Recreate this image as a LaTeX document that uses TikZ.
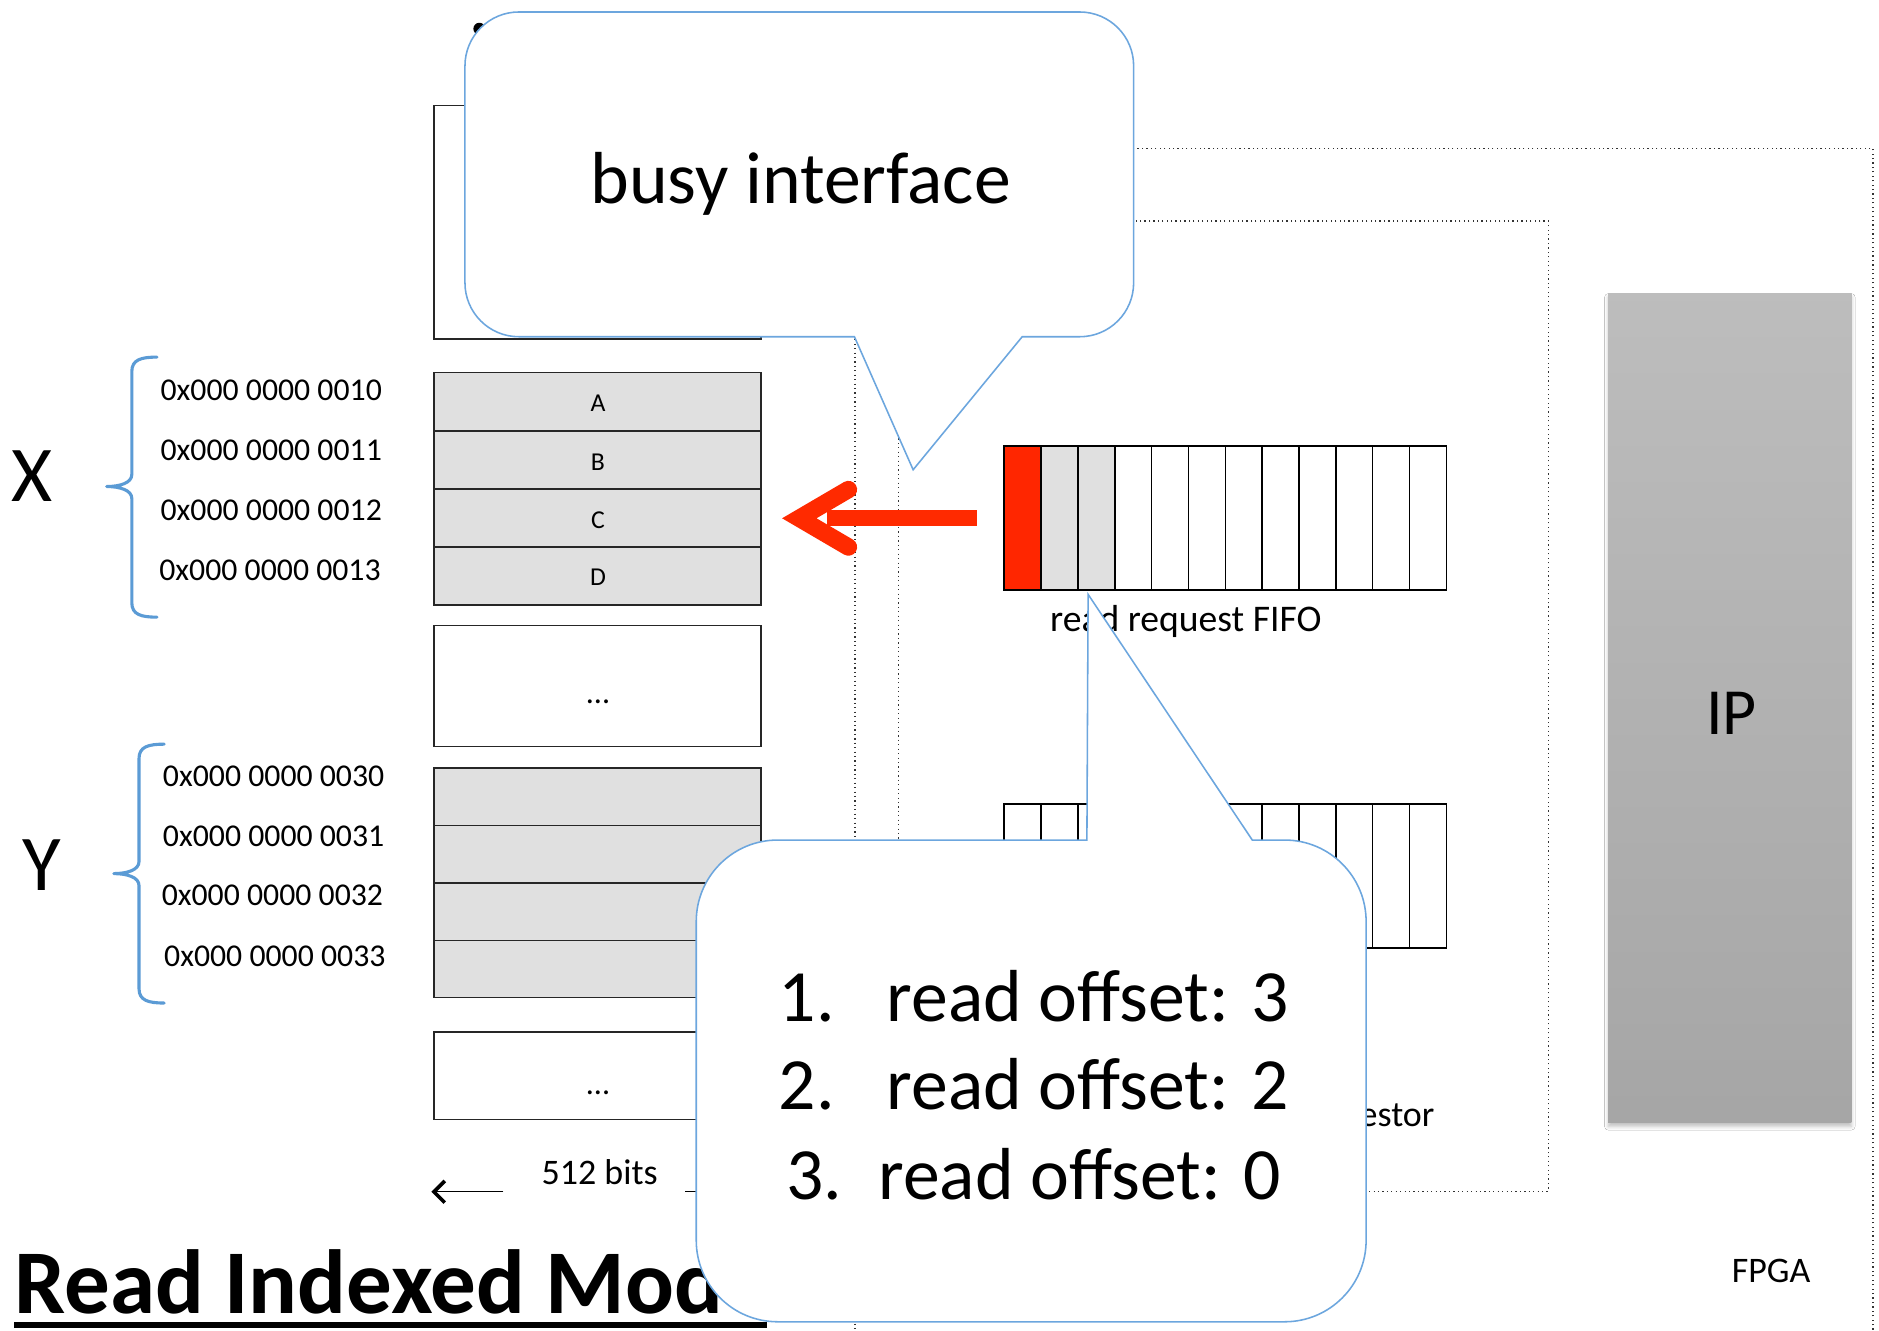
\documentclass[tikz,border=0pt]{standalone}
\usepackage{fontspec}
\setmainfont{Carlito}
\usetikzlibrary{arrows.meta,shadows.blur}
\definecolor{bblue}{RGB}{108,166,222}
\definecolor{bracec}{RGB}{91,155,213}
\definecolor{memgray}{RGB}{224,224,224}
\definecolor{fred}{RGB}{255,38,0}
\definecolor{ared}{RGB}{255,42,0}
\begin{document}
\begin{tikzpicture}[x=1pt,y=-1pt,
  membox/.style={draw=black!85, line width=1.2pt, minimum width=273pt, inner sep=0pt, outer sep=0pt},
  cell/.style={draw=black, line width=1.3pt, minimum width=30.75pt, minimum height=120pt, inner sep=0pt, outer sep=0pt},
  lbl/.style={inner sep=0pt, outer sep=0pt},
  addr/.style={lbl, anchor=base west, font=\fontsize{26.5}{30}\selectfont},
  small/.style={lbl, font=\fontsize{30}{36}\selectfont},
  tiny/.style={lbl, anchor=base, font=\fontsize{21.5}{26}\selectfont},
  big/.style={lbl, font=\fontsize{61.5}{74}\selectfont},
  bubble/.style={draw=bblue, fill=white, line width=1.3pt},
  dotline/.style={line width=1pt, dash pattern=on 1pt off 2.7pt, black!80},
  bracestyle/.style={draw=bracec, line width=2.6pt, line cap=round, line join=round},
  barb/.style={line width=1.1pt, -{Straight Barb[length=9pt,width=18pt,line width=3pt]}},
]
\useasboundingbox (0,0) rectangle (1568,1110);
\clip (0,0) rectangle (1568,1110);
\fill[white] (0,0) rectangle (1568,1110);

% dotted frames
\draw[dotline] (713.5,124) rectangle (1563,1130);
\draw[dotline] (749.5,184.5) rectangle (1292,994);

% memory column
\node[membox, minimum height=195pt] (mTop) at (498.5,185.5) {};
\node[membox, fill=memgray, minimum height=48.5pt] (mA) at (498.5,335.25) {};
\node[membox, fill=memgray, minimum height=48.5pt] (mB) at (498.5,383.75) {};
\node[membox, fill=memgray, minimum height=48.5pt] (mC) at (498.5,432.25) {};
\node[membox, fill=memgray, minimum height=48.5pt] (mD) at (498.5,480.75) {};
\node[membox, minimum height=101pt] (mDots1) at (498.5,572.5) {};
\node[membox, fill=memgray, minimum height=47.9pt] (mY1) at (498.5,664.95) {};
\node[membox, fill=memgray, minimum height=47.9pt] (mY2) at (498.5,712.85) {};
\node[membox, fill=memgray, minimum height=47.9pt] (mY3) at (498.5,760.75) {};
\node[membox, fill=memgray, minimum height=47.9pt] (mY4) at (498.5,808.65) {};
\node[membox, minimum height=73pt] (mDots2) at (498.5,897.5) {};

\node[tiny] (tA) at (499,343.6) {A};
\node[tiny] (tB) at (499,392.8) {B};
\node[tiny] (tC) at (499,441) {C};
\node[tiny] (tD) at (499,489) {D};
\node[tiny, font=\fontsize{27}{30}\selectfont] (tDots1) at (499,587) {…};
\node[tiny, font=\fontsize{27}{30}\selectfont] (tDots2) at (499,913) {…};

% addresses
\node[addr] (a10) at (134,334) {0x000 0000 0010};
\node[addr] (a11) at (134,384) {0x000 0000 0011};
\node[addr] (a12) at (134,434) {0x000 0000 0012};
\node[addr] (a13) at (133,484) {0x000 0000 0013};
\node[addr] (a30) at (136,656.5) {0x000 0000 0030};
\node[addr] (a31) at (136,706.6) {0x000 0000 0031};
\node[addr] (a32) at (135,756) {0x000 0000 0032};
\node[addr] (a33) at (137,806.7) {0x000 0000 0033};

% X / Y
\node[lbl, anchor=base, font=\fontsize{66}{78}\selectfont] (lX) at (26.6,418.7) {X};
\node[lbl, anchor=base, font=\fontsize{66}{78}\selectfont] (lY) at (34.5,743) {Y};

% braces
\draw[bracestyle] (131,298) .. controls (118,298) and (110,300) .. (110,310) -- (110,396)
  .. controls (110,403) and (100,406) .. (89,406) .. controls (100,406) and (110,409) .. (110,416)
  -- (110,503) .. controls (110,513) and (118,515) .. (131,515);
\draw[bracestyle] (137,621) .. controls (124,621) and (116,623) .. (116,633) -- (116,719)
  .. controls (116,726) and (106,729) .. (95,729) .. controls (106,729) and (116,732) .. (116,739)
  -- (116,825) .. controls (116,835) and (124,837) .. (137,837);

% FIFO top
\node[cell, fill=fred] (f1) at ({838+30.75*0.5},432.25) {};
\node[cell, fill=memgray] (f2) at ({838+30.75*1.5},432.25) {};
\node[cell, fill=memgray] (f3) at ({838+30.75*2.5},432.25) {};
\foreach \i in {4,...,12} {
  \node[cell] (f\i) at ({838+30.75*(\i-0.5)},432.25) {};
}
% FIFO bottom
\foreach \i in {1,...,12} {
  \node[cell] (g\i) at ({838+30.75*(\i-0.5)},731) {};
}
\node[small, anchor=base, font=\fontsize{31.4}{36}\selectfont] (tFifo) at (989.5,527) {read request FIFO};
\node[small, anchor=base east] (tReq) at (1197,940) {requestor};
\node[small, anchor=base] (tFpga) at (1478,1070.4) {FPGA};

% IP
\node[draw=none, top color=black!26, bottom color=black!35, minimum width=203pt, minimum height=692pt,
  inner sep=0pt, outer sep=0pt,
  blur shadow={shadow xshift=0pt, shadow yshift=-3pt, shadow blur radius=3pt, shadow opacity=25}] (ip) at (1443.5,591) {};
\node[lbl, anchor=base, font=\fontsize{55}{66}\selectfont] (tIP) at (1445,612.6) {IP};

% red arrow
\coordinate (rs) at (815,432.5);
\coordinate (rm) at (690,432.5);
\coordinate (rt) at (667,432.5);
\coordinate (rb1) at (708,408.5);
\coordinate (rb2) at (708,456.5);
\draw[ared, line width=13pt] (rs) -- (rm);
\draw[ared, line width=14.5pt, line cap=round, line join=miter, miter limit=10] (rb1) -- (rt) -- (rb2);

% 512 bits
\coordinate (bl1) at (420,994.5);
\coordinate (bl2) at (360,994.5);
\coordinate (br1) at (572,994.5);
\coordinate (br2) at (636,994.5);
\draw[barb] (bl1) -- (bl2);
\draw[barb] (br1) -- (br2);
\node[small, anchor=base west] (t512) at (452,988.4) {512 bits};

% title
\node[lbl, anchor=base west, font=\bfseries\fontsize{76}{90}\selectfont] (title) at (12,1096) {Read Indexed Mode};
\fill (12,1103.5) rectangle (640,1108.5);

% fragment of hidden text
\fill (400,24) circle (5);

% bubble 1
\draw[bubble] (713,281) -- (433,281) .. controls (408.15,281) and (388,260.85) .. (388,236) -- (388,55)
  .. controls (388,30.15) and (408.15,10) .. (433,10) -- (901,10) .. controls (925.85,10) and (946,30.15) .. (946,55)
  -- (946,236) .. controls (946,260.85) and (925.85,281) .. (901,281) -- (853,281) -- (762,392) -- cycle;
\node[big, anchor=base] (tBusy) at (668,169.7) {busy interface};

% bubble 2
\draw[bubble] (907,701) -- (649,701) .. controls (611.45,701) and (581,731.45) .. (581,769) -- (581,1035)
  .. controls (581,1072.55) and (611.45,1103) .. (649,1103) -- (1072,1103) .. controls (1109.55,1103) and (1140,1072.55) .. (1140,1035)
  -- (1140,769) .. controls (1140,731.45) and (1109.55,701) .. (1072,701) -- (1045,701) -- (908,496) -- cycle;
\node[big, anchor=base west] (n1) at (650,852.4) {1.};
\node[big, anchor=base west] (r1) at (740,852.4) {read offset: 3};
\node[big, anchor=base west] (n2) at (650,925.6) {2.};
\node[big, anchor=base west] (r2) at (740,925.6) {read offset: 2};
\node[big, anchor=base west] (n3) at (656,1000.8) {3.};
\node[big, anchor=base west] (r3) at (733,1000.8) {read offset: 0};
\end{tikzpicture}
\end{document}
